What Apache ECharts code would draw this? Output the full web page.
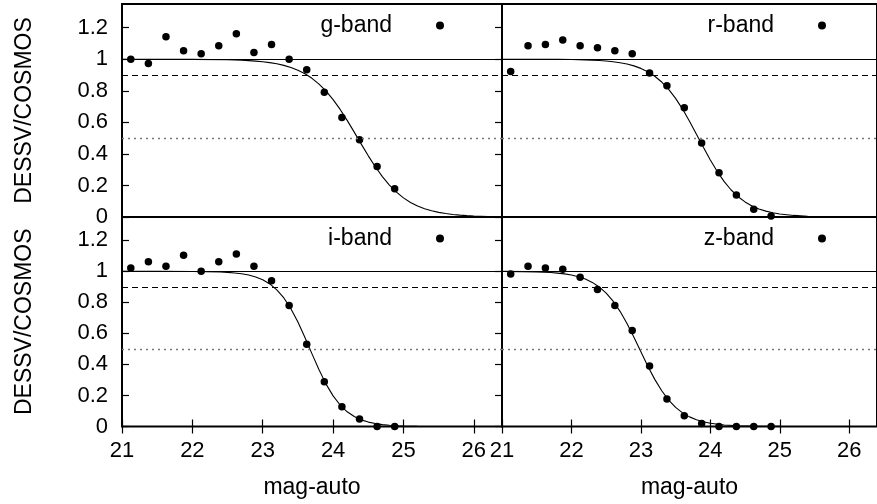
<!DOCTYPE html>
<html>
<head>
<meta charset="utf-8">
<script src="https://cdn.jsdelivr.net/npm/echarts@6/dist/echarts.min.js"></script>
<style>
html,body{margin:0;padding:0;background:#fff;}
#chart{width:877px;height:504px;}
</style>
</head>
<body>
<div id="chart"></div>
<script>
// ---- data ----
const bandNames = ['g-band', 'r-band', 'i-band', 'z-band'];
const magBins = [21.125, 21.375, 21.625, 21.875, 22.125, 22.375, 22.625, 22.875,
                 23.125, 23.375, 23.625, 23.875, 24.125, 24.375, 24.625, 24.875];
const gRatio = [1.00, 0.973, 1.143, 1.053, 1.034, 1.085, 1.162, 1.042, 1.093, 1.00, 0.933, 0.79, 0.63, 0.49, 0.32, 0.179];
const rRatio = [0.922, 1.085, 1.093, 1.122, 1.085, 1.072, 1.053, 1.034, 0.912, 0.832, 0.693, 0.469, 0.28, 0.139, 0.049, 0.006];
const iRatio = [1.022, 1.062, 1.032, 1.103, 1.00, 1.062, 1.112, 1.032, 0.94, 0.78, 0.53, 0.288, 0.127, 0.048, 0.0, 0.0];
const zRatio = [0.983, 1.032, 1.022, 1.013, 0.962, 0.883, 0.78, 0.619, 0.39, 0.178, 0.069, 0.02, 0.0, 0.0, 0.0, 0.0];

// fitted completeness curves
const gFit = [[21.0,1.0],[21.5,0.9999],[22.0,0.9992],[22.5,0.9965],[22.6,0.9952],[22.7,0.9935],[22.8,0.9912],[22.9,0.9881],[23.0,0.984],[23.1,0.9783],[23.2,0.9709],[23.3,0.9609],[23.4,0.9477],[23.5,0.9303],[23.6,0.9078],[23.7,0.8789],[23.8,0.8425],[23.9,0.7977],[24.0,0.744],[24.1,0.6818],[24.2,0.6123],[24.3,0.538],[24.4,0.462],[24.5,0.3877],[24.6,0.3182],[24.7,0.256],[24.8,0.2023],[24.9,0.1575],[25.0,0.1211],[25.1,0.0922],[25.2,0.0697],[25.3,0.0523],[25.4,0.0391],[25.5,0.0291],[25.6,0.0217],[25.7,0.016],[25.8,0.0119],[25.9,0.0088],[26.0,0.0065],[26.2,0.0035],[26.4,0.0019]];
const rFit = [[21.0,1.0],[21.5,0.9996],[21.8,0.9989],[22.0,0.9979],[22.1,0.997],[22.2,0.9958],[22.3,0.9941],[22.4,0.9918],[22.5,0.9886],[22.6,0.9841],[22.7,0.978],[22.8,0.9694],[22.9,0.9578],[23.0,0.9419],[23.1,0.9206],[23.2,0.8923],[23.3,0.8555],[23.4,0.8089],[23.5,0.7516],[23.6,0.684],[23.7,0.6073],[23.8,0.5252],[23.9,0.4415],[24.0,0.3612],[24.1,0.2878],[24.2,0.2241],[24.3,0.1712],[24.4,0.1287],[24.5,0.0955],[24.6,0.0702],[24.7,0.0512],[24.8,0.0372],[24.9,0.0268],[25.0,0.0193],[25.2,0.01],[25.4,0.0051],[25.6,0.0026],[26.0,0.0007],[26.4,0.0002]];
const iFit = [[21.0,1.0],[21.5,0.9999],[22.0,0.9992],[22.2,0.9981],[22.4,0.9955],[22.5,0.9932],[22.6,0.9896],[22.7,0.9841],[22.8,0.9759],[22.9,0.9636],[23.0,0.9454],[23.1,0.9188],[23.2,0.8808],[23.3,0.8284],[23.4,0.7593],[23.5,0.6733],[23.6,0.574],[23.7,0.4681],[23.8,0.3651],[23.9,0.2731],[24.0,0.1972],[24.1,0.1383],[24.2,0.0949],[24.3,0.0641],[24.4,0.0428],[24.5,0.0284],[24.6,0.0188],[24.7,0.0123],[24.8,0.0081],[24.9,0.0053],[25.0,0.0035],[25.2,0.0015],[25.5,0.0004],[26.0,0.0],[26.4,0.0]];
const zFit = [[21.0,0.9994],[21.3,0.9982],[21.5,0.9963],[21.6,0.9945],[21.7,0.9921],[21.8,0.9885],[21.9,0.9833],[22.0,0.9758],[22.1,0.9651],[22.2,0.95],[22.3,0.9286],[22.4,0.8993],[22.5,0.8595],[22.6,0.8075],[22.7,0.7421],[22.8,0.6635],[22.9,0.5749],[23.0,0.4812],[23.1,0.3887],[23.2,0.3037],[23.3,0.2301],[23.4,0.1701],[23.5,0.1232],[23.6,0.0879],[23.7,0.062],[23.8,0.0433],[23.9,0.0301],[24.0,0.0209],[24.2,0.0099],[24.4,0.0047],[24.6,0.0022],[25.0,0.0005],[26.4,0.0]];

const refLevels = [1.0, 0.9, 0.5];
const xTicks = [21, 22, 23, 24, 25, 26];
const yTicks = [0, 0.2, 0.4, 0.6, 0.8, 1, 1.2];
const xRange = [21, 26.4];
const yRange = [0, 1.35];
const xTitle = 'mag-auto';
const yTitle = 'DESSV/COSMOS';

// ---- layout ----
const FONT = 'Liberation Sans';
const ratios = [gRatio, rRatio, iRatio, zRatio];
const fits = [gFit, rFit, iFit, zFit];
const grids = [
  {left: 122, top: 4, width: 380, height: 213},
  {left: 502, top: 4, width: 383, height: 213},
  {left: 122, top: 217, width: 380, height: 209.5},
  {left: 502, top: 217, width: 383, height: 209.5}
];
const isLeft = [true, false, true, false];
const isBottom = [false, false, true, true];

const xAxes = [], yAxes = [], series = [], legends = [];
const tickStyle = {color: '#000', width: 1.2};
const legendPos = [
  {right: 877 - 444, top: 14},
  {right: 877 - 826, top: 14},
  {right: 877 - 444, top: 227},
  {right: 877 - 826, top: 227}
];

grids.forEach((g, i) => {
  xAxes.push({
    gridIndex: i, type: 'value', min: xRange[0], max: xRange[1], position: 'bottom',
    axisLine: {show: false}, splitLine: {show: false},
    axisTick: {show: isBottom[i], inside: true, length: 7, customValues: xTicks, lineStyle: tickStyle},
    axisLabel: {show: isBottom[i], customValues: xTicks, fontFamily: FONT, fontSize: 22, color: '#000', margin: 13},
    name: isBottom[i] ? xTitle : '', nameLocation: 'middle', nameGap: 50,
    nameTextStyle: {fontFamily: FONT, fontSize: 23, color: '#000'}
  });
  xAxes.push({
    gridIndex: i, type: 'value', min: xRange[0], max: xRange[1], position: 'top',
    axisLine: {show: false}, splitLine: {show: false},
    axisTick: {show: isBottom[i], inside: true, length: 7, customValues: xTicks, lineStyle: tickStyle},
    axisLabel: {show: false}
  });
  yAxes.push({
    gridIndex: i, type: 'value', min: yRange[0], max: yRange[1], position: 'left',
    axisLine: {show: false}, splitLine: {show: false},
    axisTick: {show: isLeft[i], inside: true, length: 7, customValues: yTicks, lineStyle: tickStyle},
    axisLabel: {show: isLeft[i], customValues: yTicks, fontFamily: FONT, fontSize: 22, color: '#000', margin: 14},
    name: isLeft[i] ? yTitle : '', nameLocation: 'middle', nameGap: 86,
    nameTextStyle: {fontFamily: FONT, fontSize: 23, color: '#000'}
  });
  yAxes.push({
    gridIndex: i, type: 'value', min: yRange[0], max: yRange[1], position: 'right',
    axisLine: {show: false}, splitLine: {show: false},
    axisTick: {show: isLeft[i], inside: true, length: 7, customValues: yTicks, lineStyle: tickStyle},
    axisLabel: {show: false}
  });

  series.push({
    name: 'fit-' + bandNames[i], type: 'line', xAxisIndex: 2 * i, yAxisIndex: 2 * i,
    data: fits[i], showSymbol: false, symbol: 'none', smooth: false,
    lineStyle: {color: '#000', width: 1.1}, z: 3,
    markLine: {
      silent: true, symbol: ['none', 'none'], label: {show: false},
      data: [
        {yAxis: refLevels[0], lineStyle: {type: 'solid', color: '#000', width: 1}},
        {yAxis: refLevels[1], lineStyle: {type: [6, 4], color: '#000', width: 1}},
        {yAxis: refLevels[2], lineStyle: {type: [2, 4], color: '#777', width: 1.3}}
      ]
    }
  });
  series.push({
    name: bandNames[i], type: 'scatter', xAxisIndex: 2 * i, yAxisIndex: 2 * i,
    data: magBins.map((m, k) => [m, ratios[i][k]]),
    symbol: 'circle', symbolSize: 7.5, itemStyle: {color: '#000', opacity: 1}, z: 4
  });
  legends.push({
    data: [bandNames[i]], right: legendPos[i].right, top: legendPos[i].top, padding: 0,
    icon: 'circle', itemWidth: 8, itemHeight: 8, align: 'right', selectedMode: false,
    textStyle: {fontFamily: FONT, fontSize: 23, color: '#000', padding: [0, 39, 0, 0]}
  });
});

const chart = echarts.init(document.getElementById('chart'), null, {renderer: 'canvas'});
chart.setOption({
  animation: false,
  backgroundColor: '#fff',
  grid: grids.map(g => Object.assign({show: true, borderColor: '#000', borderWidth: 2, backgroundColor: 'transparent', containLabel: false}, g)),
  xAxis: xAxes,
  yAxis: yAxes,
  legend: legends,
  series: series
});
</script>
</body>
</html>
